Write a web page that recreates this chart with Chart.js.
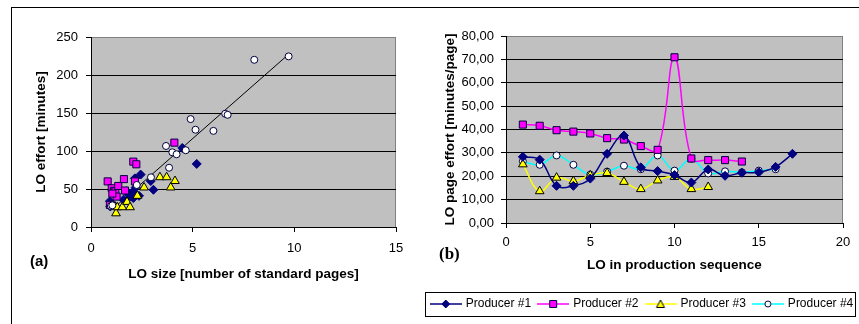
<!DOCTYPE html>
<html><head><meta charset="utf-8">
<script src="https://cdn.jsdelivr.net/npm/chart.js@4/dist/chart.umd.min.js"></script>
<style>
html,body{margin:0;padding:0;background:#fff;width:859px;height:324px;overflow:hidden;position:relative;font-family:"Liberation Sans",Arial,sans-serif}
#frame{position:absolute;left:11px;top:7px;width:900px;height:400px;border-left:1px solid #000;border-top:1px solid #000}
canvas{position:absolute;top:0}
#ca{left:0}
#cb{left:420px}
.lab{position:absolute;font-weight:bold;color:#000;line-height:1}
#la{left:30px;top:253px;font-size:15px;font-family:"Liberation Sans",Arial,sans-serif}
#lb{left:439px;top:245px;font-size:17px;font-family:"Liberation Serif","Times New Roman",serif}
</style></head><body>
<div id="frame"></div>
<canvas id="ca" width="420" height="324"></canvas>
<canvas id="cb" width="445" height="324"></canvas>
<div class="lab" id="la">(a)</div>
<div class="lab" id="lb">(b)</div>
<script>
// ---------- data ----------
const producers = ['Producer #1', 'Producer #2', 'Producer #3', 'Producer #4'];

// (a) LO size [pages] vs LO effort [minutes]
const p1Size   = [0.93, 0.95, 1.60, 1.75, 1.84, 1.95, 2.00, 2.05, 2.08, 2.16, 2.20, 2.36, 2.44, 2.94, 3.07, 4.49, 5.20];
const p1Effort = [34, 27, 36, 47, 43, 40, 44, 46, 38, 64, 52, 41, 69, 60.5, 49, 104, 83];
const p2Size   = [0.82, 0.93, 1.02, 1.13, 1.20, 1.26, 1.34, 1.62, 1.67, 2.08, 2.16, 2.23, 4.10, 1.05];
const p2Effort = [60, 29, 51, 47.5, 47, 40, 54, 63, 48, 86, 60, 82.5, 111, 44];
const p3Size   = [1.18, 1.23, 1.29, 1.54, 1.77, 1.92, 2.28, 2.61, 3.39, 3.72, 3.92, 4.13];
const p3Effort = [27, 18, 26, 26, 33, 26, 41, 52, 65.5, 65.5, 52, 60.5];
const p4Size   = [0.98, 1.05, 2.25, 2.95, 3.69, 3.84, 4.00, 4.21, 4.66, 4.90, 5.14, 6.02, 6.60, 6.72, 8.03, 9.72];
const p4Effort = [27.6, 28.5, 55.3, 65.4, 106.6, 78, 98.3, 95.7, 101, 142, 128, 126.5, 149, 147.6, 220, 224.5];
const trendSize   = [1.1, 9.6];
const trendEffort = [24.6, 224.5];

// (b) LO in production sequence vs LO page effort [minutes/page]
const sequence = [1, 2, 3, 4, 5, 6, 7, 8, 9, 10, 11, 12, 13, 14, 15, 16, 17];
const p1PageEffort = [28.3, 27.1, 15.9, 15.9, 19.0, 29.6, 37.4, 23.8, 22.2, 20.5, 17.3, 22.9, 20.2, 21.5, 21.7, 24.0, 29.6];
const p2PageEffort = [42.1, 41.6, 39.7, 39.1, 38.3, 36.3, 35.7, 32.9, 31.3, 70.9, 27.6, 26.9, 26.9, 26.3];
const p3PageEffort = [25.1, 13.6, 19.4, 17.9, 20.4, 21.4, 17.6, 14.5, 18.2, 19.7, 14.5, 15.4];
const p4PageEffort = [26.4, 24.9, 28.9, 24.9, 20.7, 22.0, 24.5, 23.0, 28.9, 22.4, 27.5, 21.2, 22.1, 21.7, 22.4, 23.0];

// tick labels
const sizeTicks = [0, 5, 10, 15];
const effortTicks = [0, 50, 100, 150, 200, 250];
const seqTicks = [0, 5, 10, 15, 20];
const pageEffortTicks = [0, 10, 20, 30, 40, 50, 60, 70, 80];

// ---------- styling ----------
const styles = [
  {color: '#000080', pointStyle: 'rectRot', radius: 4.5, bg: '#000080', border: '#000080'},
  {color: '#FF00FF', pointStyle: 'rect', radius: 5, bg: '#FF00FF', border: '#000040'},
  {color: '#FFFF00', pointStyle: 'triangle', radius: 5, bg: '#FFFF00', border: '#000000'},
  {color: '#00FFFF', pointStyle: 'circle', radius: 3.5, bg: '#FFFFFF', border: '#000040'}
];
const FONT = '"Liberation Sans", Arial, sans-serif';
Chart.defaults.font.family = FONT;
Chart.defaults.color = '#000';

const pts = (xs, ys) => xs.map((x, i) => ({x: x, y: ys[i]}));
const setTicks = arr => s => { s.ticks = arr.map(v => ({value: v})); };

const plotBg = {
  id: 'plotBg',
  beforeDraw(chart) {
    const {ctx, chartArea: a} = chart;
    ctx.save();
    ctx.fillStyle = '#C0C0C0';
    ctx.fillRect(a.left, a.top, a.width, a.height);
    ctx.strokeStyle = '#808080';
    ctx.lineWidth = 1;
    ctx.strokeRect(Math.round(a.left) + 0.5, Math.round(a.top) + 0.5, Math.round(a.width) - 1, Math.round(a.height));
    ctx.restore();
  }
};

const legendBox = {
  id: 'legendBox',
  afterDraw(chart) {
    const hb = chart.legend && chart.legend.legendHitBoxes;
    if (!hb || !hb.length) return;
    const last = hb[hb.length - 1];
    const l = Math.round(hb[0].left - 7), r = Math.round(last.left + last.width + 2);
    const t = Math.round(hb[0].top - 6), b = Math.round(hb[0].top + hb[0].height + 6);
    const ctx = chart.ctx;
    ctx.save();
    ctx.strokeStyle = '#000';
    ctx.lineWidth = 1;
    ctx.strokeRect(l + 0.5, t + 0.5, r - l, b - t);
    ctx.restore();
  }
};

function legendImage(st) {
  const c = document.createElement('canvas');
  c.width = 32; c.height = 12;
  const g = c.getContext('2d');
  g.strokeStyle = st.color; g.lineWidth = 1.5;
  g.beginPath(); g.moveTo(0, 6); g.lineTo(32, 6); g.stroke();
  g.fillStyle = st.bg; g.strokeStyle = st.border; g.lineWidth = 1;
  g.beginPath();
  if (st.pointStyle === 'rectRot') { g.moveTo(16, 2); g.lineTo(20, 6); g.lineTo(16, 10); g.lineTo(12, 6); g.closePath(); }
  else if (st.pointStyle === 'rect') { g.rect(12.5, 2.5, 7, 7); }
  else if (st.pointStyle === 'triangle') { g.moveTo(16, 2); g.lineTo(20, 9.5); g.lineTo(12, 9.5); g.closePath(); }
  else { g.arc(16, 6, 3, 0, Math.PI * 2); }
  g.fill(); g.stroke();
  return c;
}
const legendImages = styles.map(legendImage);

const tickFont = {size: 13};
const titleFont = {size: 13.5, weight: 'bold'};

// ---------- chart (a) ----------
const sizeSets = [pts(p1Size, p1Effort), pts(p2Size, p2Effort), pts(p3Size, p3Effort), pts(p4Size, p4Effort)];
new Chart(document.getElementById('ca'), {
  type: 'scatter',
  data: {
    datasets: sizeSets.map((d, i) => ({
      label: producers[i], data: d, order: 4 - i,
      pointStyle: styles[i].pointStyle, pointRadius: styles[i].radius,
      backgroundColor: styles[i].bg, borderColor: styles[i].border, borderWidth: 1
    })).concat([{
      type: 'line', label: 'Trend', data: pts(trendSize, trendEffort), order: 10,
      borderColor: '#000', borderWidth: 1, pointRadius: 0, fill: false
    }])
  },
  options: {
    responsive: false, animation: false, devicePixelRatio: 1,
    layout: {padding: {top: 37, right: 24, bottom: 0, left: 0}},
    plugins: {legend: {display: false}, tooltip: {enabled: false}},
    scales: {
      x: {
        type: 'linear', min: 0, max: 15, afterBuildTicks: setTicks(sizeTicks),
        grid: {drawOnChartArea: false, tickColor: '#000', tickLength: 5},
        border: {color: '#000'},
        ticks: {font: tickFont, padding: 9, maxRotation: 0, color: '#000'},
        title: {display: true, text: 'LO size [number of standard pages]', font: titleFont, color: '#000', padding: {top: 0, bottom: 42}},
        afterFit: s => { s.height = 97; }
      },
      y: {
        type: 'linear', min: 0, max: 250, afterBuildTicks: setTicks(effortTicks),
        grid: {color: c => (c.tick && c.tick.value === 250) ? 'rgba(0,0,0,0)' : '#000', tickColor: '#000', tickLength: 5},
        border: {color: '#000'},
        ticks: {font: tickFont, padding: 8, color: '#000'},
        title: {display: true, text: 'LO effort [minutes]', font: titleFont, color: '#000', padding: {top: 33, bottom: 0}},
        afterFit: s => { s.width = 91; }
      }
    }
  },
  plugins: [plotBg]
});

// ---------- chart (b) ----------
const pageSets = [p1PageEffort, p2PageEffort, p3PageEffort, p4PageEffort].map(arr => pts(sequence.slice(0, arr.length), arr));
new Chart(document.getElementById('cb'), {
  type: 'line',
  data: {
    datasets: pageSets.map((d, i) => ({
      label: producers[i], data: d,
      borderColor: styles[i].color, borderWidth: 1.5, tension: 0.4, fill: false,
      pointStyle: styles[i].pointStyle, pointRadius: styles[i].radius,
      pointBackgroundColor: styles[i].bg, pointBorderColor: styles[i].border, pointBorderWidth: 1,
      backgroundColor: styles[i].bg
    }))
  },
  options: {
    responsive: false, animation: false, devicePixelRatio: 1,
    layout: {padding: {top: 36, right: 0, bottom: 4, left: 0}},
    plugins: {
      tooltip: {enabled: false},
      legend: {
        display: true, position: 'bottom',
        labels: {
          usePointStyle: true, pointStyleWidth: 28, padding: 8, color: '#000', font: {size: 12},
          generateLabels(chart) {
            const items = Chart.defaults.plugins.legend.labels.generateLabels(chart);
            items.forEach(it => { it.pointStyle = legendImages[it.datasetIndex]; });
            return items;
          }
        }
      }
    },
    scales: {
      x: {
        type: 'linear', min: 0, max: 20, afterBuildTicks: setTicks(seqTicks),
        grid: {drawOnChartArea: false, tickColor: '#000', tickLength: 5},
        border: {color: '#000'},
        ticks: {font: tickFont, padding: 7, maxRotation: 0, color: '#000'},
        title: {display: true, text: 'LO in production sequence', font: titleFont, color: '#000', padding: {top: 0, bottom: 17}},
        afterFit: s => { s.height = 67; }
      },
      y: {
        type: 'linear', min: 0, max: 80, afterBuildTicks: setTicks(pageEffortTicks),
        grid: {color: c => (c.tick && c.tick.value === 80) ? 'rgba(0,0,0,0)' : '#000', tickColor: '#000', tickLength: 5},
        border: {color: '#000'},
        ticks: {font: tickFont, padding: 7, color: '#000', callback: v => v.toFixed(2).replace('.', ',')},
        title: {display: true, text: 'LO page effort [minutes/page]', font: titleFont, color: '#000', padding: {top: 22, bottom: 0}},
        afterFit: s => { s.width = 86; }
      },
      yRight: {
        type: 'linear', position: 'right', display: true,
        grid: {display: false}, border: {display: false}, ticks: {display: false},
        afterFit: s => { s.width = 22; }
      }
    }
  },
  plugins: [plotBg, legendBox]
});
</script>
</body></html>
